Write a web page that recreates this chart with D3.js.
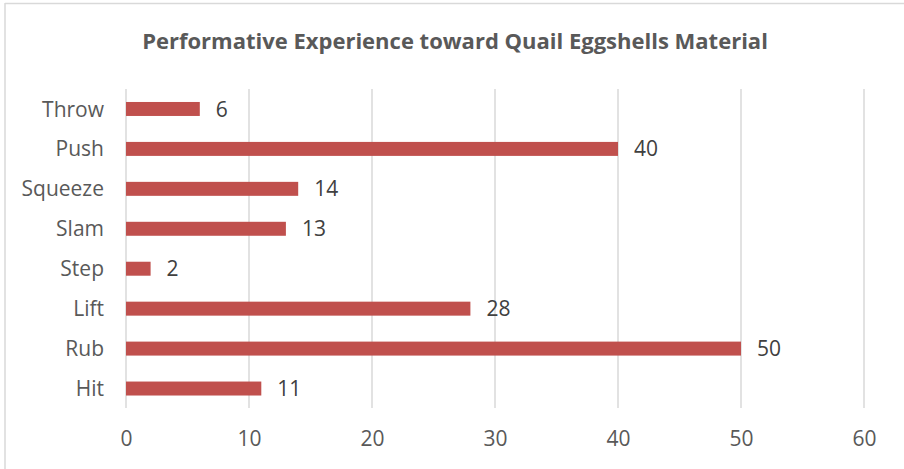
<!DOCTYPE html>
<html>
<head>
<meta charset="utf-8">
<script src="https://cdn.jsdelivr.net/npm/d3@7"></script>
<style>
  html, body { margin: 0; padding: 0; background: #fff; }
  svg { display: block; font-family: "Open Sans", sans-serif; }
</style>
</head>
<body>
<svg id="chart" width="904" height="469"></svg>
<script>
// Number of respondents for each performative action on quail eggshells
const categories = ["Throw", "Push", "Squeeze", "Slam", "Step", "Lift", "Rub", "Hit"];
const counts = [6, 40, 14, 13, 2, 28, 50, 11];
const xTicks = [0, 10, 20, 30, 40, 50, 60];
const chartTitle = "Performative Experience toward Quail Eggshells Material";

const svg = d3.select("#chart");
const W = 904, H = 469;
const margin = { top: 89, right: 40, bottom: 61, left: 126 };

// Chart frame (top and left edges of the chart area)
svg.append("line").attr("x1", 5).attr("x2", W).attr("y1", 3.5).attr("y2", 3.5)
  .attr("stroke", "#d9d9d9").attr("stroke-width", 1.5);
svg.append("line").attr("x1", 5).attr("x2", 5).attr("y1", 3).attr("y2", H)
  .attr("stroke", "#d9d9d9").attr("stroke-width", 1.5);

const x = d3.scaleLinear().domain([0, 60]).range([margin.left, 864]);
const y = d3.scaleBand().domain(categories)
  .range([margin.top, H - margin.bottom + 0.5]).paddingInner(0.65).paddingOuter(0.325);

// Title
svg.append("text")
  .attr("x", 455).attr("y", 49)
  .attr("text-anchor", "middle")
  .attr("fill", "#595959")
  .attr("font-weight", "bold")
  .attr("font-size", 22)
  .text(chartTitle);

// Vertical gridlines
svg.append("g").selectAll("line").data(xTicks).join("line")
  .attr("x1", d => x(d)).attr("x2", d => x(d))
  .attr("y1", margin.top).attr("y2", H - margin.bottom)
  .attr("stroke", "#d9d9d9").attr("stroke-width", 1.5);

// Bottom axis labels
const xAxis = d3.axisBottom(x).tickValues(xTicks).tickSize(0).tickPadding(0);
const gx = svg.append("g").attr("transform", `translate(0,${H - margin.bottom})`).call(xAxis);
gx.select(".domain").remove();
gx.selectAll("text")
  .attr("font-family", "Open Sans, sans-serif").attr("font-size", 21)
  .attr("fill", "#595959").attr("dy", null).attr("y", 38);

// Left category axis
const yAxis = d3.axisLeft(y).tickSize(0).tickPadding(22);
const gy = svg.append("g").attr("transform", `translate(${margin.left},0)`).call(yAxis);
gy.select(".domain").remove();
gy.selectAll("text")
  .attr("font-family", "Open Sans, sans-serif").attr("font-size", 21)
  .attr("fill", "#595959").attr("dy", "0.36em");

// Bars
const rows = categories.map((c, i) => ({ c, v: counts[i] }));
svg.append("g").selectAll("rect").data(rows).join("rect")
  .attr("x", x(0))
  .attr("y", d => y(d.c))
  .attr("width", d => x(d.v) - x(0))
  .attr("height", y.bandwidth())
  .attr("fill", "#c0504d");

// Value labels
svg.append("g").selectAll("text").data(rows).join("text")
  .attr("x", d => x(d.v) + 16)
  .attr("y", d => y(d.c) + y.bandwidth() / 2)
  .attr("dy", "0.36em")
  .attr("font-size", 21)
  .attr("fill", "#404040")
  .text(d => d.v);
</script>
</body>
</html>
